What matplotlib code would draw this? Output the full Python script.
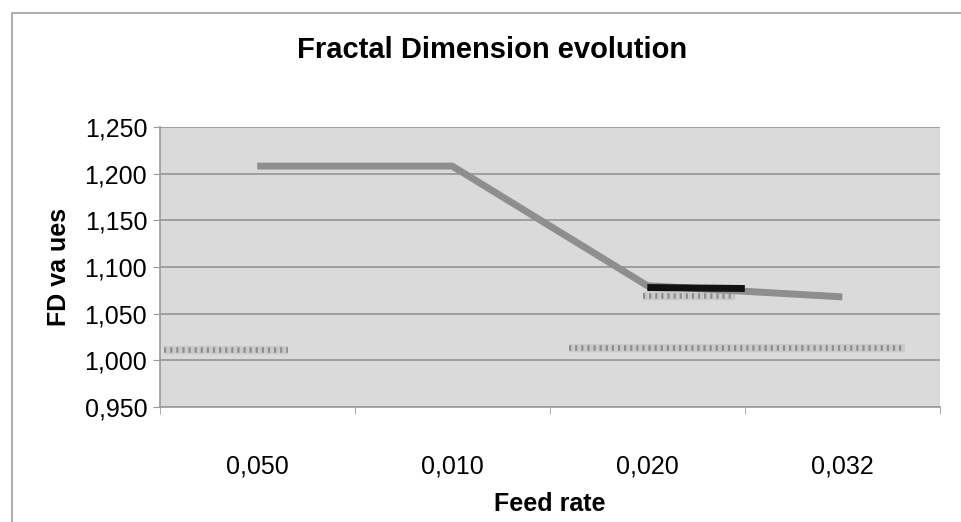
"""Fractal Dimension evolution vs feed rate (Excel-style line chart)."""
import numpy as np
import matplotlib
matplotlib.use("Agg")
import matplotlib.pyplot as plt
from matplotlib.patches import Rectangle

plt.rcParams["font.family"] = ["Liberation Sans", "DejaVu Sans"]

# --- data ---
categories = ["0,050", "0,010", "0,020", "0,032"]
fd_values = [1.208, 1.208, 1.080, 1.068]

# short dark trace next to 0,020 (category units on x)
dark_x = [2.0, 2.5]
dark_y = [1.078, 1.077]

# faint speckled traces near 1,010
faint_left_x = [-0.48, 0.16]
faint_left_y = [1.011, 1.011]
faint_right_x = [1.60, 3.32]
faint_right_y = [1.013, 1.013]
faint_small_x = [1.98, 2.45]
faint_small_y = [1.069, 1.069]

yticks = [0.950, 1.000, 1.050, 1.100, 1.150, 1.200, 1.250]

fig = plt.figure(figsize=(9.62, 5.22), dpi=100)
fig.patches.append(Rectangle((0.0125, -0.01), 1.1, 0.985, transform=fig.transFigure,
                             fill=False, edgecolor="#a0a0a0", lw=1.2))

ax = fig.add_axes([0.166, 0.220, 0.811, 0.537])
ax.set_facecolor("#dadada")

x = np.arange(len(categories))
ax.plot(x, fd_values, color="#8e8e8e", lw=5, solid_capstyle="butt", zorder=3)
ax.plot(dark_x, dark_y, color="#111111", lw=5, solid_capstyle="butt", zorder=4)
for fx, fy in [(faint_left_x, faint_left_y), (faint_right_x, faint_right_y),
               (faint_small_x, faint_small_y)]:
    ax.plot(fx, fy, color="#cacaca", lw=6, solid_capstyle="butt", zorder=2)
    ax.plot(fx, fy, color="#7a7a7a", lw=4, ls=(0, (0.4, 0.7)), alpha=0.75, zorder=2)

ax.set_xlim(-0.5, len(categories) - 0.5)
ax.set_ylim(yticks[0], yticks[-1])
ax.set_yticks(yticks)
ax.set_yticklabels([f"{v:.3f}".replace(".", ",") for v in yticks], fontsize=18)
ax.set_xticks(x)
ax.set_xticklabels(categories, fontsize=18)
ax.set_xticks(np.arange(len(categories) + 1) - 0.5, minor=True)
ax.tick_params(axis="x", which="major", length=0, pad=34)
ax.tick_params(axis="x", which="minor", length=5, color="#9a9a9a")
ax.tick_params(axis="y", length=5, color="#9a9a9a", pad=4)

ax.grid(axis="y", color="#959595", lw=1.2)
ax.set_axisbelow(True)
for side in ["top", "right"]:
    ax.spines[side].set_visible(False)
for side in ["left", "bottom"]:
    ax.spines[side].set_color("#9a9a9a")
    ax.spines[side].set_linewidth(1.2)

ax.set_xlabel("Feed rate", fontsize=18, fontweight="bold", labelpad=10)
ax.set_ylabel("FD va ues", fontsize=18, fontweight="bold", labelpad=10)
fig.text(0.511, 0.904, "Fractal Dimension evolution", ha="center", va="center",
         fontsize=21, fontweight="bold")

fig.savefig("out.png", dpi=100)
